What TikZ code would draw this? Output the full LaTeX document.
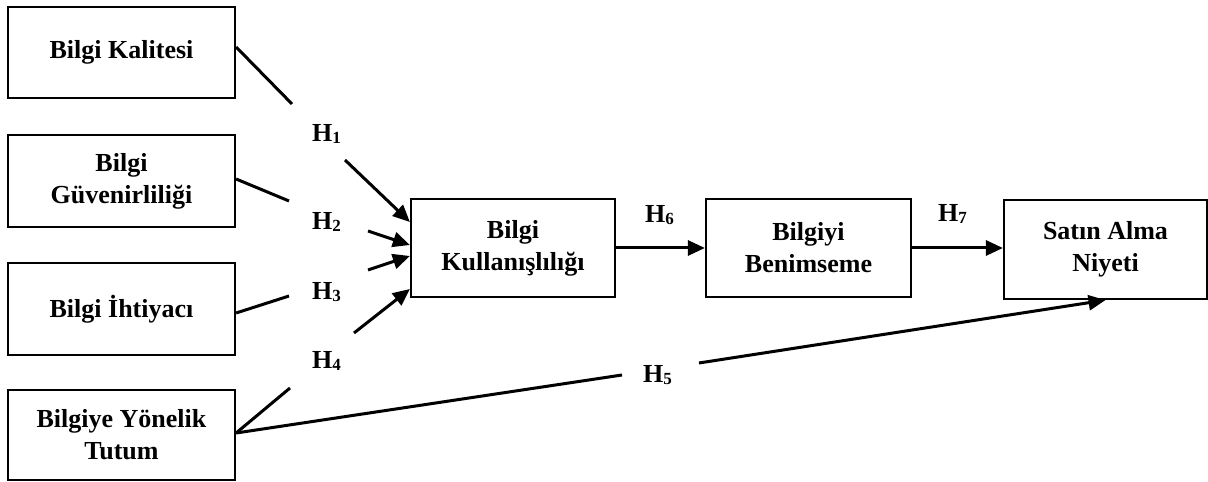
\documentclass[tikz,border=0pt]{standalone}
\usepackage{fontspec}
\setmainfont{Liberation Serif}
\usetikzlibrary{arrows.meta}
\tikzset{
  box/.style={draw, line width=2.2pt, inner sep=0pt, align=center,
    font=\fontsize{26}{32}\selectfont\bfseries},
  hlab/.style={anchor=base west, inner sep=0pt, font=\fontsize{26}{32}\selectfont\bfseries},
  link/.style={line width=3pt},
  arr/.style={line width=3pt, -{Triangle[length=17pt,width=15pt]}}
}
\newcommand{\hyp}[1]{H\raisebox{-1.5pt}{\fontsize{17}{17}\selectfont #1}}
\begin{document}
\begin{tikzpicture}[x=1pt,y=1pt]
\useasboundingbox[fill=white] (0,0) rectangle (1208,482);
% boxes
\node[box, minimum width=227pt, minimum height=91pt] (b1) at (121.5,429.5) {Bilgi Kalitesi};
\node[box, minimum width=227pt, minimum height=92pt] (b2) at (121.5,301) {Bilgi\\Güvenirliliği};
\node[box, minimum width=227pt, minimum height=92pt] (b3) at (121.5,173) {Bilgi İhtiyacı};
\node[box, minimum width=227pt, minimum height=90pt] (b4) at (121.5,47) {Bilgiye Yönelik\\Tutum};
\node[box, minimum width=204pt, minimum height=98pt] (b5) at (513,234) {Bilgi\\Kullanışlılığı};
\node[box, minimum width=205pt, minimum height=98pt] (b6) at (808.5,234) {Bilgiyi\\Benimseme};
\node[box, minimum width=203pt, minimum height=99pt] (b7) at (1105.5,232.5) {Satın Alma\\Niyeti};
% labels
\node[hlab] (h1) at (312,340) {\hyp{1}};
\node[hlab] (h2) at (312,252) {\hyp{2}};
\node[hlab] (h3) at (312,182) {\hyp{3}};
\node[hlab] (h4) at (312,113) {\hyp{4}};
\node[hlab] (h5) at (643,99) {\hyp{5}};
\node[hlab] (h6) at (645,259) {\hyp{6}};
\node[hlab] (h7) at (938,260) {\hyp{7}};
% free ends
\coordinate (c1) at (292,378);
\coordinate (d1) at (345,322);
\coordinate (c2) at (289,281);
\coordinate (d2) at (368,251);
\coordinate (d3) at (368,212);
\coordinate (c3) at (289,186);
\coordinate (d4) at (354,149);
\coordinate (c4) at (290,94);
\coordinate (e5a) at (622,107);
\coordinate (e5b) at (699,119);
% connectors
\draw[link] ([yshift=5.5pt]b1.east) -- (c1);
\draw[arr] (d1) -- ([yshift=26pt]b5.west);
\draw[link] ([yshift=2pt]b2.east) -- (c2);
\draw[arr] (d2) -- ([yshift=3pt]b5.west);
\draw[arr] (d3) -- ([yshift=-8pt]b5.west);
\draw[link] ([yshift=-4pt]b3.east) -- (c3);
\draw[arr] (d4) -- ([yshift=-41pt]b5.west);
\draw[link] ([yshift=2pt]b4.east) -- (c4);
\draw[link] ([yshift=2pt]b4.east) -- (e5a);
\draw[arr] (e5b) -- (b7.south);
\draw[arr] (b5.east) -- (b6.west);
\draw[arr] (b6.east) -- (b6.east -| b7.west);
\end{tikzpicture}
\end{document}
